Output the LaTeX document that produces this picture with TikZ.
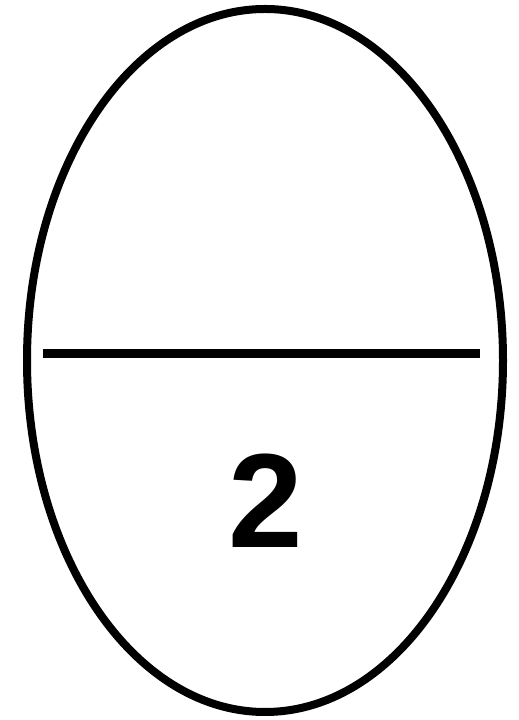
\documentclass[tikz,border=0pt]{standalone}
\usepackage{fontspec}
\setmainfont{Liberation Sans}
\begin{document}
\begin{tikzpicture}[x=1pt,y=1pt,
  outline/.style={draw=black,line width=8pt},
  bar/.style={draw=black,line width=9pt},
  digit/.style={font=\bfseries\fontsize{134}{134}\selectfont,inner sep=0pt}]
\useasboundingbox (0,0) rectangle (519,720);
\draw[outline] (265,359.5) ellipse [x radius=238, y radius=351.5];
\coordinate (l) at (43,366);
\coordinate (r) at (480,366);
\draw[bar] (l) -- (r);
\node[digit,anchor=base] (two) at (266,172) {2};
\end{tikzpicture}
\end{document}
